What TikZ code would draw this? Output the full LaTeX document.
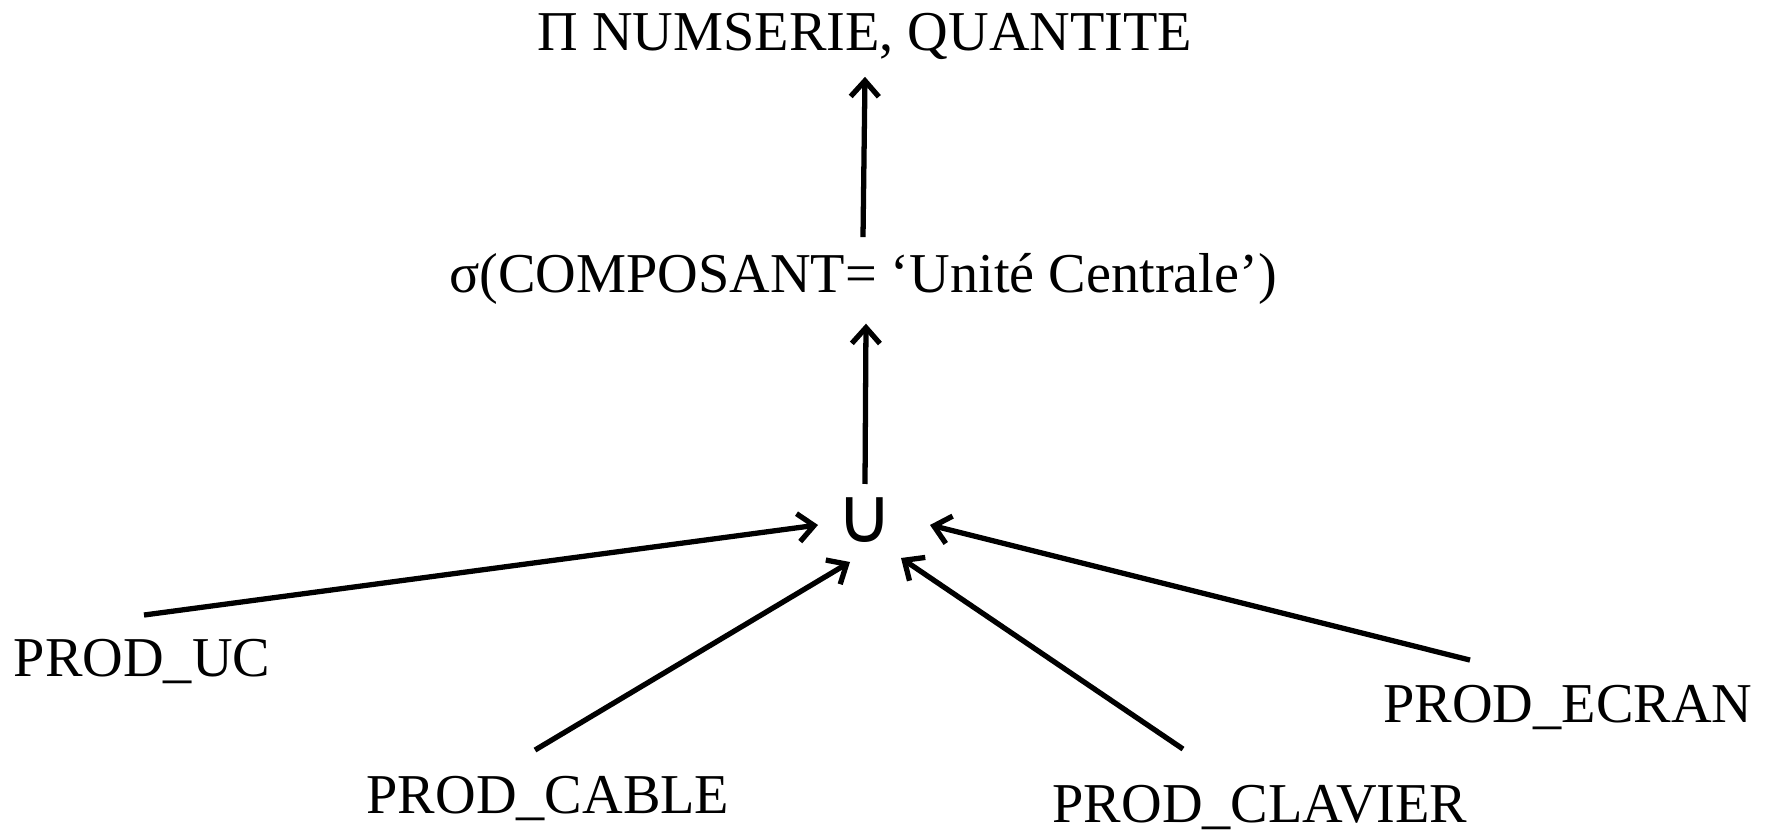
\documentclass[tikz,border=0pt]{standalone}
\usepackage{fontspec}
\setmainfont{Liberation Serif}
\newfontfamily\symfont{DejaVu Sans}
\usetikzlibrary{calc,arrows.meta}

\begin{document}
\begin{tikzpicture}[x=0.01cm, y=-0.01cm,
        lbl/.style={inner sep=0pt, anchor=base, font=\fontsize{16}{19}\selectfont},
        arr/.style={line width=1.5pt, -{Straight Barb[length=4.5pt,width=8pt]}}]
        \useasboundingbox (0,0) rectangle (1772,834);
        % operators
        \node[lbl] (proj) at (865,51) {Π NUMSERIE, QUANTITE};
        \node[lbl] (sel) at (863,293) {σ(COMPOSANT= ‘Unité Centrale’)};
        \node[inner sep=0pt, font=\symfont\fontsize{22}{26}\selectfont] (cup) at (865,520) {∪};
        % relations
        \node[lbl] (uc) at (142,677) {PROD\_UC};
        \node[lbl] (cable) at (548,814) {PROD\_CABLE};
        \node[lbl] (clavier) at (1260,823) {PROD\_CLAVIER};
        \node[lbl] (ecran) at (1568,723) {PROD\_ECRAN};
        % arrows
        \draw[arr] ($(sel.north)+(0,-16)$) -- ($(proj.south)+(0,16)$);
        \draw[arr] ($(cup)+(0,-36)$) -- ($(sel.south)+(3,18)$);
        \draw[arr] ($(uc.north)+(2,-24)$) -- ($(cup)+(-47,5)$);
        \draw[arr] ($(cable.north)+(-13,-26)$) -- ($(cup)+(-15,42)$);
        \draw[arr] ($(clavier.north)+(-77,-36)$) -- ($(cup)+(36,38)$);
        \draw[arr] ($(ecran.north)+(-98,-25)$) -- ($(cup)+(65,5)$);
\end{tikzpicture}
\end{document}
